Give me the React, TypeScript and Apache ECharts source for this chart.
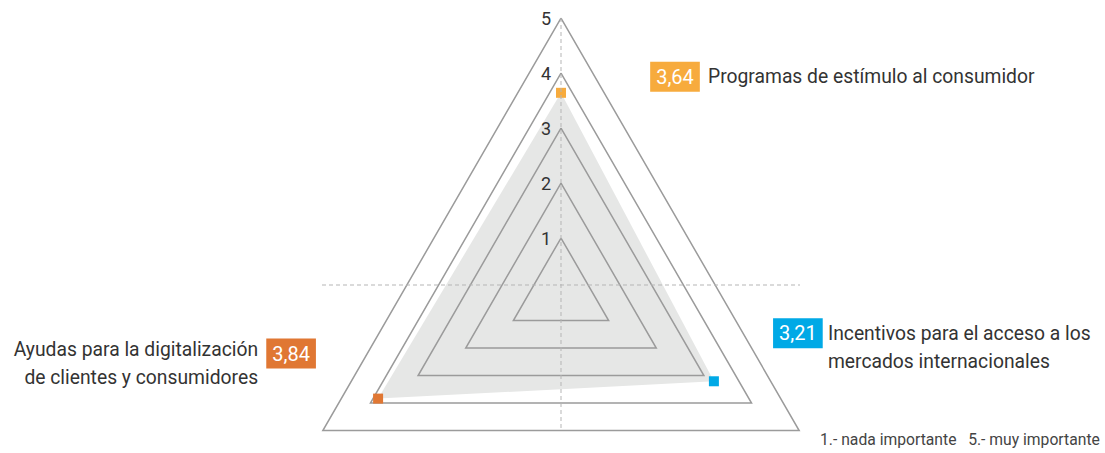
import React, { useEffect, useRef } from "react";
import * as echarts from "echarts";

// ---- data ----
const categories = [
  "Programas de estímulo al consumidor",
  "Ayudas para la digitalización\nde clientes y consumidores",
  "Incentivos para el acceso a los\nmercados internacionales",
];
const values = [3.64, 3.84, 3.21];
const angles = [0, 120, 240];
const tickLabels = ["1", "2", "3", "4", "5"];
const footnote = "1.- nada importante   5.- muy importante";

// ---- styles / positions ----
const colors = ["#F7AB3D", "#E07733", "#00A9E6"];
const boxOffsets: [number, number][] = [
  [114, -16],
  [-87, -45],
  [84, -48],
];
const nameOffsets: [number, number][] = [
  [147, -16],
  [-120, -35],
  [114, -34],
];
const nameAlign = ["left", "right", "left"];
const FONT = "Roboto";
const CX = 561;
const CY = 293;
const R = 275;

const fmt = (v: number) => v.toFixed(2).replace(".", ",");

export default function App() {
  const ref = useRef<HTMLDivElement>(null);
  useEffect(() => {
    if (!ref.current) return;
    const chart = echarts.init(ref.current, undefined, { renderer: "svg" });
    chart.setOption({
      animation: false,
      textStyle: { fontFamily: FONT },
      radar: {
        center: [CX, CY],
        radius: R,
        startAngle: 90,
        shape: "polygon",
        splitNumber: 5,
        z: 3,
        indicator: categories.map((c) => ({ name: c, max: 5, min: 0 })),
        axisName: { show: false },
        axisLine: { show: false },
        axisTick: { show: false },
        axisLabel: { show: false },
        splitArea: { show: false },
        splitLine: { lineStyle: { color: "#9b9b9b", width: 1.5 } },
      },
      polar: { center: [CX, CY], radius: [0, R] },
      angleAxis: {
        type: "value",
        min: 0,
        max: 360,
        startAngle: 90,
        clockwise: false,
        show: false,
      },
      radiusAxis: {
        type: "value",
        min: 0,
        max: 5,
        interval: 1,
        z: 6,
        axisLine: { show: false },
        axisTick: { show: false },
        splitLine: { show: false },
        axisLabel: {
          color: "#333",
          fontSize: 18,
          fontFamily: FONT,
          margin: 10,
          formatter: (v: number) => tickLabels[v - 1] ?? "",
        },
      },
      graphic: [
        {
          type: "line",
          z: 10,
          shape: { x1: CX, y1: 18, x2: CX, y2: 428 },
          style: { stroke: "#b5b5b5", lineWidth: 1, lineDash: [4, 3] },
        },
        {
          type: "line",
          z: 10,
          shape: { x1: 322, y1: 285, x2: 800, y2: 285 },
          style: { stroke: "#b5b5b5", lineWidth: 1, lineDash: [4, 3] },
        },
        {
          type: "text",
          left: 820,
          top: 431,
          style: {
            text: footnote,
            fill: "#444",
            font: `15.7px ${FONT}`,
          },
        },
      ],
      series: [
        {
          type: "radar",
          z: 1,
          silent: true,
          symbol: "none",
          lineStyle: { width: 0 },
          areaStyle: { color: "#e6e7e6", opacity: 1 },
          data: [{ value: values }],
        },
        {
          type: "scatter",
          coordinateSystem: "polar",
          z: 8,
          symbol: "rect",
          symbolSize: 10,
          silent: true,
          data: values.map((v, i) => ({
            value: [v, angles[i]],
            itemStyle: { color: colors[i], opacity: 1 },
            label: {
              show: true,
              position: "inside",
              offset: boxOffsets[i],
              formatter: fmt(v),
              color: "#fff",
              fontSize: 20,
              fontFamily: FONT,
              lineHeight: 22,
              backgroundColor: colors[i],
              padding: [4, 6],
            },
          })),
        },
        {
          type: "scatter",
          coordinateSystem: "polar",
          z: 8,
          symbol: "circle",
          symbolSize: 1,
          silent: true,
          itemStyle: { color: "rgba(0,0,0,0)", opacity: 1 },
          data: values.map((v, i) => ({
            value: [v, angles[i]],
            label: {
              show: true,
              position: "inside",
              offset: nameOffsets[i],
              align: nameAlign[i],
              verticalAlign: "middle",
              formatter: categories[i],
              color: "#333",
              fontSize: 19.3,
              fontFamily: FONT,
              lineHeight: 28,
            },
          })),
        },
      ],
    });
    return () => chart.dispose();
  }, []);
  return (
    <div
      ref={ref}
      style={{ position: "absolute", left: 0, top: 0, width: 1105, height: 453 }}
    />
  );
}
